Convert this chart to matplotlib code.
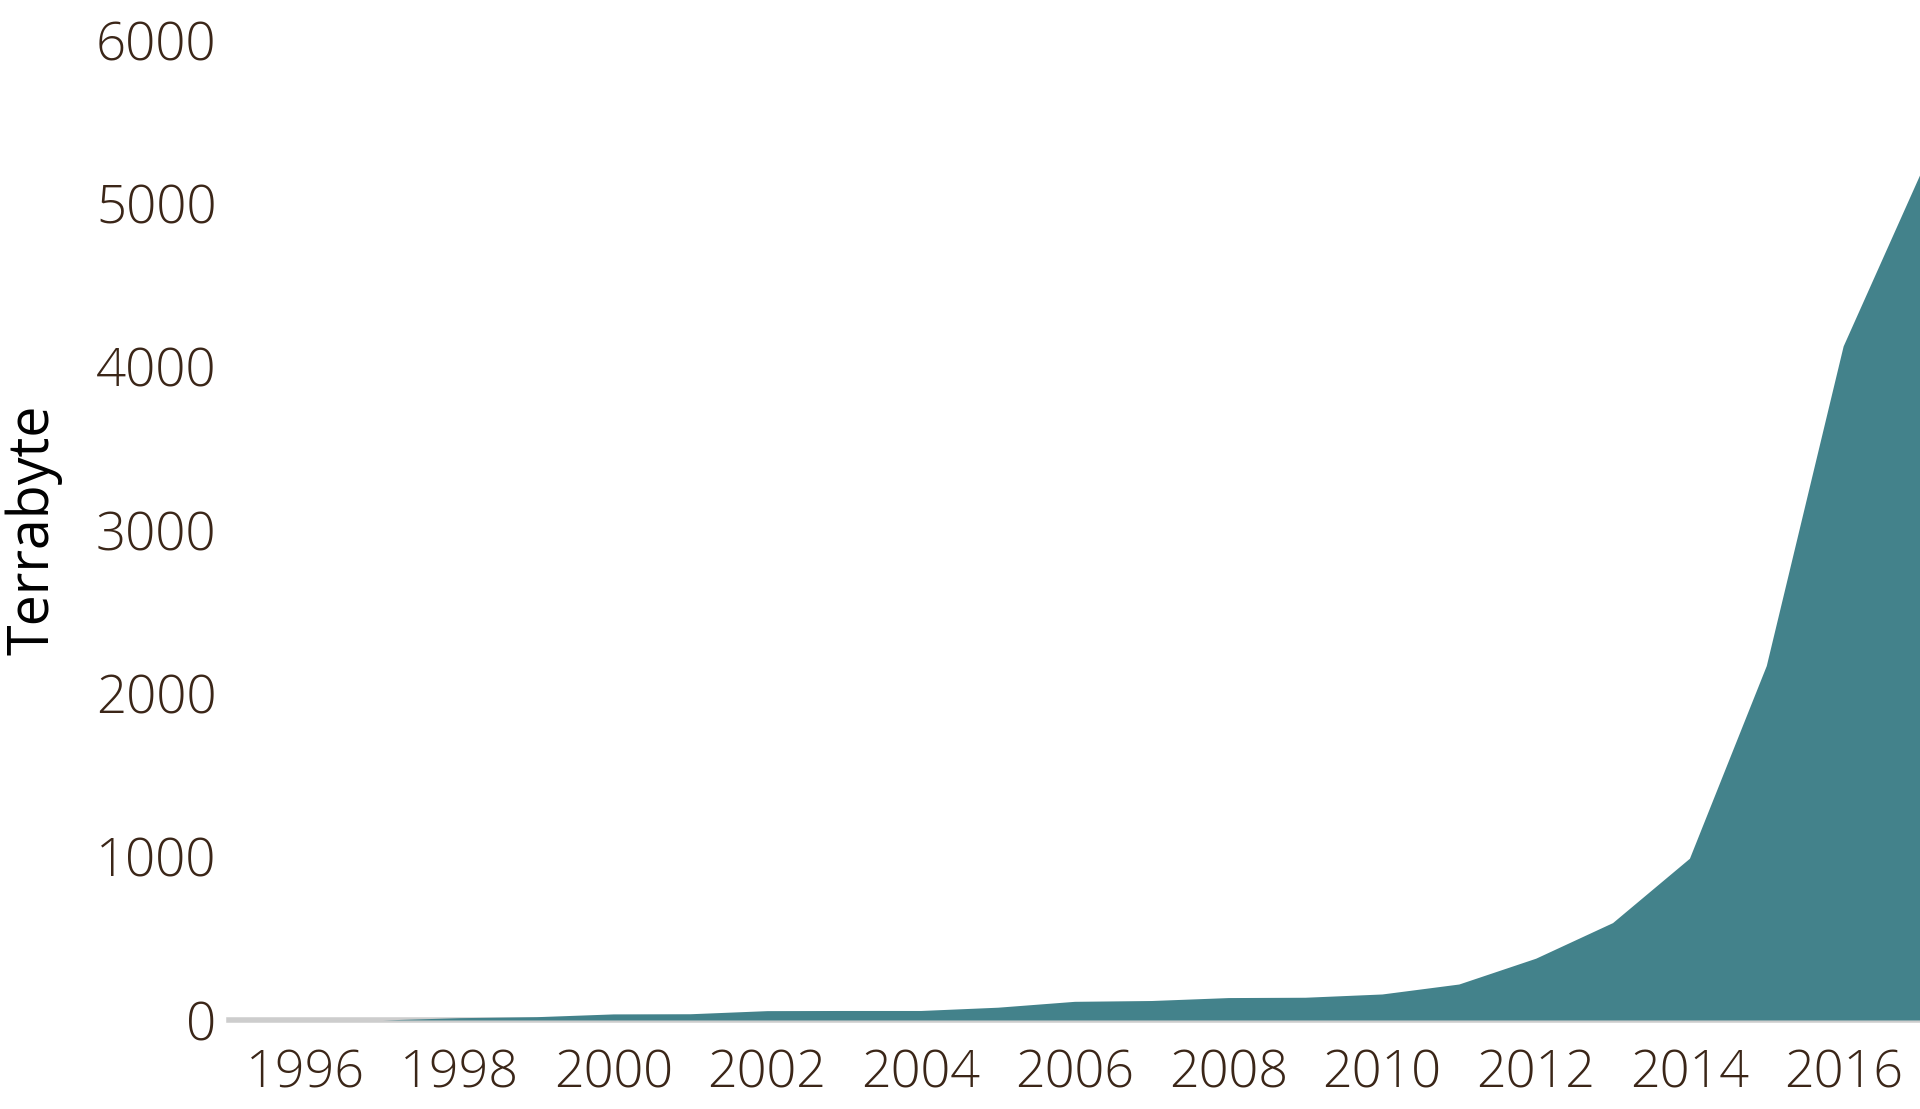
import numpy as np
import matplotlib
matplotlib.use('Agg')
import matplotlib.pyplot as plt

# Stored volume per year
years = [1997, 1998, 1999, 2000, 2001, 2002, 2003, 2004, 2005, 2006, 2007,
         2008, 2009, 2010, 2011, 2012, 2013, 2014, 2015, 2016, 2017]
terabytes = [0, 14, 20, 37, 38, 57, 58, 58, 78, 114, 119,
             137, 139, 159, 220, 378, 596, 990, 2170, 4127, 5180]

xticks = list(range(1996, 2017, 2))
yticks = [0, 1000, 2000, 3000, 4000, 5000, 6000]

fill_color = '#43828b'
tick_color = '#3b2618'

plt.rcParams['font.family'] = ['Open Sans', 'DejaVu Sans']

fig = plt.figure(figsize=(19.2, 11.09), dpi=100)
ax = fig.add_axes([0.1193, 0.0803, 0.8807, 0.8836])

# grey baseline, partly showing under the area
ax.axhline(0, color='#cdcdcd', lw=4.0, zorder=1, clip_on=False)
ax.fill_between(years, terabytes, 0, color=fill_color, lw=0, zorder=2)

ax.set_xlim(1995, 2017)
ax.set_ylim(0, 6000)
ax.set_xticks(xticks)
ax.set_yticks(yticks)
ax.set_xticklabels([str(y) for y in xticks], fontsize=37.5, fontweight='light', color=tick_color)
ax.set_yticklabels([str(v) for v in yticks], fontsize=38, fontweight='light', color=tick_color)
ax.tick_params(axis='both', length=0)
ax.tick_params(axis='x', pad=20)
ax.tick_params(axis='y', pad=9)

for s in ax.spines.values():
    s.set_visible(False)

ax.set_ylabel('Terrabyte', fontsize=40, color='black', labelpad=24)

fig.savefig('out.png', dpi=100)
